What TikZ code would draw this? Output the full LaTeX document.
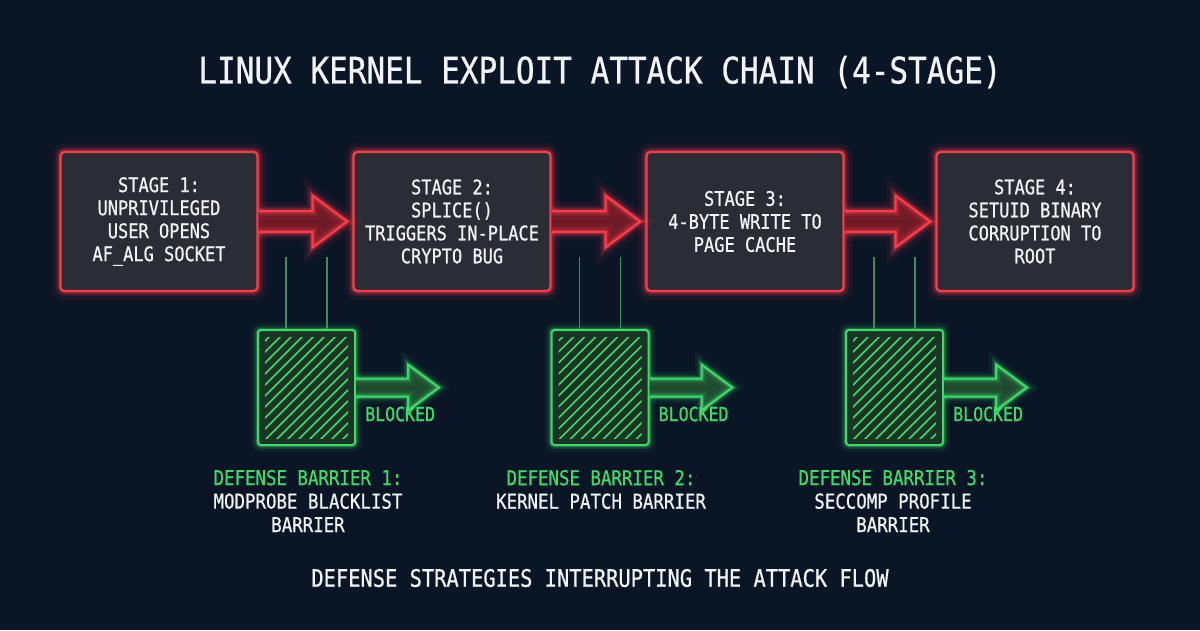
\documentclass[tikz,border=0pt]{standalone}
\usepackage{fontspec}
\setmonofont[FakeStretch=0.85,FakeBold=0.7]{DejaVu Sans Mono}
\usetikzlibrary{calc}
\definecolor{bg}{HTML}{0A1526}
\definecolor{stagefill}{HTML}{2A2D35}
\definecolor{neonred}{HTML}{FF3B4A}
\definecolor{arrowred}{HTML}{6A1A26}
\definecolor{neongreen}{HTML}{3DDC6A}
\definecolor{barfill}{HTML}{1A3526}
\definecolor{arrowgreen}{HTML}{1E4A30}
\definecolor{glinec}{HTML}{3F8F5E}
\definecolor{txt}{HTML}{F2F4F7}
\newcommand{\stagearrow}[2]{%
  \fill[arrowred] ($(#1.east)+(0,-10.5)$) -- ($(#2.west)+(-40,-10.5)$) -- ($(#2.west)+(-40,-26)$) -- ($(#2.west)+(-5,0)$) -- ($(#2.west)+(-40,26)$) -- ($(#2.west)+(-40,10.5)$) -- ($(#1.east)+(0,10.5)$) -- cycle;
  \draw[redline] ($(#1.east)+(0,-10.5)$) -- ($(#2.west)+(-40,-10.5)$) -- ($(#2.west)+(-40,-26)$) -- ($(#2.west)+(-5,0)$) -- ($(#2.west)+(-40,26)$) -- ($(#2.west)+(-40,10.5)$) -- ($(#1.east)+(0,10.5)$);}
\newcommand{\blockarrow}[1]{%
  \fill[arrowgreen] ($(#1.east)+(0,-9)$) -- ($(#1.east)+(52,-9)$) -- ($(#1.east)+(52,-23)$) -- ($(#1.east)+(83,0)$) -- ($(#1.east)+(52,23)$) -- ($(#1.east)+(52,9)$) -- ($(#1.east)+(0,9)$) -- cycle;
  \draw[greenline] ($(#1.east)+(0,-9)$) -- ($(#1.east)+(52,-9)$) -- ($(#1.east)+(52,-23)$) -- ($(#1.east)+(83,0)$) -- ($(#1.east)+(52,23)$) -- ($(#1.east)+(52,9)$) -- ($(#1.east)+(0,9)$);}
\newcommand{\hatchbox}[1]{%
  \begin{scope}
    \clip ($(#1.north west)+(8,8)$) rectangle ($(#1.south east)+(-8,-8)$);
    \foreach \k in {-10,...,10} {\draw[hatchline] ($(#1.center)+(\k*11-70,70)$) -- ++(140,-140);}
  \end{scope}}
\begin{document}
\begin{tikzpicture}[x=1pt,y=-1pt,
  redglow/.style={preaction={draw=neonred,draw opacity=0.07,line width=18pt},
                  preaction={draw=neonred,draw opacity=0.15,line width=10pt},
                  preaction={draw=neonred,draw opacity=0.3,line width=5.5pt}},
  greenglow/.style={preaction={draw=neongreen,draw opacity=0.07,line width=14pt},
                  preaction={draw=neongreen,draw opacity=0.14,line width=8pt},
                  preaction={draw=neongreen,draw opacity=0.3,line width=4.5pt}},
  stagebox/.style={redglow, draw=neonred, line width=2.2pt, fill=stagefill, rounded corners=4pt,
                   minimum width=197pt, minimum height=139pt, align=center, inner sep=0pt,
                   font=\ttfamily\fontsize{20}{23}\selectfont, text=txt},
  barrierbox/.style={greenglow, draw=neongreen, line width=2pt, fill=barfill, rounded corners=3pt,
                   minimum width=97pt, minimum height=115pt, inner sep=0pt},
  redline/.style={redglow, draw=neonred, line width=2.2pt, line join=miter},
  greenline/.style={greenglow, draw=neongreen, line width=2pt, line join=miter},
  hatchline/.style={draw=neongreen, line width=1.5pt, line cap=round},
  gline/.style={draw=glinec, line width=1.2pt},
  blockedtxt/.style={font=\ttfamily\fontsize{19.5}{22}\selectfont, text=neongreen, anchor=west, inner sep=0pt},
  deflabel/.style={font=\ttfamily\fontsize{20.5}{23.5}\selectfont, text=txt, align=center, inner sep=0pt},
  titletxt/.style={font=\ttfamily\fontsize{36.5}{40}\selectfont, text=txt, inner sep=0pt},
  foottxt/.style={font=\ttfamily\fontsize{24}{28}\selectfont, text=txt, inner sep=0pt}
]
\fill[bg] (0,0) rectangle (1200,630);
\useasboundingbox (0,0) rectangle (1200,630);

\node[titletxt] (title) at (600,72) {LINUX KERNEL EXPLOIT ATTACK CHAIN (4-STAGE)};

\node[barrierbox] (b1) at (306.5,387.5) {};
\node[barrierbox] (b2) at (600,387.5) {};
\node[barrierbox] (b3) at (894.5,387.5) {};
\coordinate (t1a) at ($(b1.north)+(-20.5,-72)$);
\coordinate (t1b) at ($(b1.north)+(20.5,-72)$);
\coordinate (t2a) at ($(b2.north)+(-20.5,-72)$);
\coordinate (t2b) at ($(b2.north)+(20.5,-72)$);
\coordinate (t3a) at ($(b3.north)+(-20.5,-72)$);
\coordinate (t3b) at ($(b3.north)+(20.5,-72)$);
\draw[gline] ($(b1.north)+(-20.5,0)$) -- (t1a);
\draw[gline] ($(b1.north)+(20.5,0)$) -- (t1b);
\draw[gline] ($(b2.north)+(-20.5,0)$) -- (t2a);
\draw[gline] ($(b2.north)+(20.5,0)$) -- (t2b);
\draw[gline] ($(b3.north)+(-20.5,0)$) -- (t3a);
\draw[gline] ($(b3.north)+(20.5,0)$) -- (t3b);
\hatchbox{b1}
\hatchbox{b2}
\hatchbox{b3}

\node[stagebox] (s1) at (159,221.5) {STAGE 1:\\UNPRIVILEGED\\USER OPENS\\AF\_ALG SOCKET};
\node[stagebox] (s2) at (452,221.5) {STAGE 2:\\SPLICE()\\TRIGGERS IN-PLACE\\CRYPTO BUG};
\node[stagebox] (s3) at (745,221.5) {STAGE 3:\\4-BYTE WRITE TO\\PAGE CACHE};
\node[stagebox] (s4) at (1035,221.5) {STAGE 4:\\SETUID BINARY\\CORRUPTION TO\\ROOT};

\stagearrow{s1}{s2}
\stagearrow{s2}{s3}
\stagearrow{s3}{s4}

\blockarrow{b1}
\blockarrow{b2}
\blockarrow{b3}

\node[blockedtxt] (k1) at ($(b1.east)+(9,26.5)$) {BLOCKED};
\node[blockedtxt] (k2) at ($(b2.east)+(9,26.5)$) {BLOCKED};
\node[blockedtxt] (k3) at ($(b3.east)+(9,26.5)$) {BLOCKED};

\node[deflabel] (d1) at (308,501) {\textcolor{neongreen}{DEFENSE BARRIER 1:}\\MODPROBE BLACKLIST\\BARRIER};
\node[deflabel] (d2) at (601,489.5) {\textcolor{neongreen}{DEFENSE BARRIER 2:}\\KERNEL PATCH BARRIER};
\node[deflabel] (d3) at (893,501) {\textcolor{neongreen}{DEFENSE BARRIER 3:}\\SECCOMP PROFILE\\BARRIER};

\node[foottxt] (foot) at (600,578) {DEFENSE STRATEGIES INTERRUPTING THE ATTACK FLOW};
\end{tikzpicture}
\end{document}
